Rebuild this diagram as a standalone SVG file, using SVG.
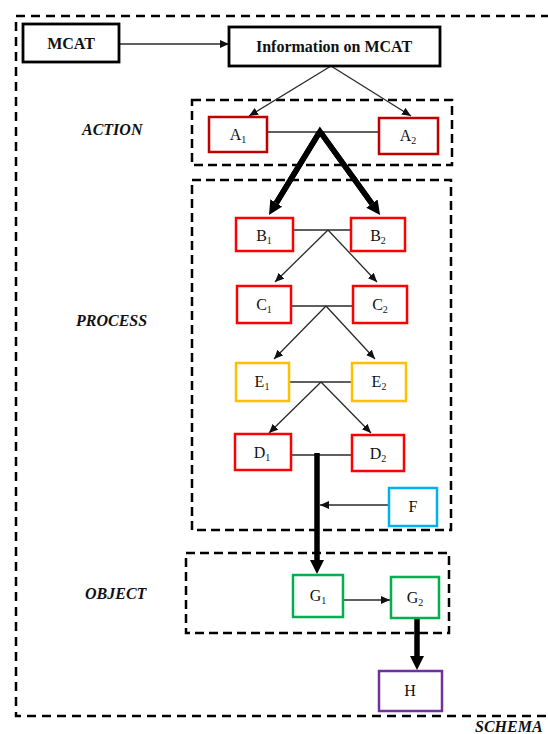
<svg xmlns="http://www.w3.org/2000/svg" width="548" height="734" viewBox="0 0 548 734">
  <style>
    .frame { fill: none; stroke: #000; stroke-width: 2.5; stroke-dasharray: 9 5; }
    .outer { fill: none; stroke: #000; stroke-width: 2.5; stroke-dasharray: 9 6; }
    .box { fill: #fff; stroke-width: 2.5; }
    .black { stroke: #000; stroke-width: 2.8; }
    .dred { stroke: #c00000; }
    .red { stroke: #ff0000; }
    .orange { stroke: #ffc000; }
    .blue { stroke: #00b0f0; }
    .green { stroke: #00b050; }
    .purple { stroke: #7030a0; }
    .thin { fill: none; stroke: #2a2a2a; stroke-width: 1.3; }
    .thick { fill: none; stroke: #000; stroke-width: 5.5; }
    text { font-family: "Liberation Serif", "Times New Roman", serif; fill: #111; }
    .title { font-size: 16px; font-weight: bold; text-anchor: middle; }
    .node { font-size: 16px; text-anchor: middle; }
    .sub { font-size: 10px; }
    .layer { font-size: 16px; font-weight: bold; font-style: italic; }
  </style>
  <defs>
    <marker id="tip" markerUnits="userSpaceOnUse" markerWidth="10" markerHeight="10" refX="9" refY="4" orient="auto">
      <path d="M0,0 L9,4 L0,8 z" fill="#111"/>
    </marker>
    <marker id="bigtip" markerUnits="userSpaceOnUse" markerWidth="16" markerHeight="16" refX="0" refY="7" orient="auto">
      <path d="M0,0 L14,7 L0,14 z" fill="#000"/>
    </marker>
  </defs>

  <!-- schema frame and layer frames -->
  <rect class="outer" x="16" y="16" width="545" height="700"/>
  <rect class="frame" x="192" y="100" width="260" height="65"/>
  <rect class="frame" x="192" y="180" width="259" height="350"/>
  <rect class="frame" x="186" y="553" width="263" height="80"/>

  <!-- layer labels -->
  <text class="layer" x="82" y="135">ACTION</text>
  <text class="layer" x="76" y="326">PROCESS</text>
  <text class="layer" x="85" y="599">OBJECT</text>
  <text class="layer" x="475" y="732">SCHEMA</text>

  <!-- connectors -->
  <g id="connectors">
    <line class="thin" x1="119" y1="44" x2="229" y2="44" marker-end="url(#tip)"/>
    <line class="thin" x1="331" y1="66" x2="249" y2="116" marker-end="url(#tip)"/>
    <line class="thin" x1="331" y1="66" x2="411" y2="116" marker-end="url(#tip)"/>

    <line class="thin" x1="267" y1="132" x2="379" y2="132"/>
    <polyline class="thick" points="276.3,203 320,131.5 371.9,203.6" stroke-linejoin="miter"/>
    <line class="thick" x1="319" y1="133" x2="276.3" y2="203" marker-end="url(#bigtip)"/>
    <line class="thick" x1="321" y1="133" x2="371.9" y2="203.6" marker-end="url(#bigtip)"/>

    <line class="thin" x1="293" y1="230" x2="351" y2="230"/>
    <line class="thin" x1="328" y1="230" x2="275" y2="282" marker-end="url(#tip)"/>
    <line class="thin" x1="328" y1="230" x2="377" y2="282" marker-end="url(#tip)"/>

    <line class="thin" x1="291" y1="306" x2="353" y2="306"/>
    <line class="thin" x1="326" y1="306" x2="274" y2="359" marker-end="url(#tip)"/>
    <line class="thin" x1="326" y1="306" x2="375" y2="359" marker-end="url(#tip)"/>

    <line class="thin" x1="289" y1="382" x2="352" y2="382"/>
    <line class="thin" x1="321" y1="382" x2="269" y2="433" marker-end="url(#tip)"/>
    <line class="thin" x1="321" y1="382" x2="371" y2="433" marker-end="url(#tip)"/>

    <line class="thin" x1="291" y1="455" x2="352" y2="455"/>
    <line class="thick" x1="317" y1="453" x2="317" y2="560" marker-end="url(#bigtip)"/>
    <line class="thin" x1="389" y1="505" x2="320" y2="505" marker-end="url(#tip)"/>

    <line class="thin" x1="343" y1="600" x2="390" y2="600" marker-end="url(#tip)"/>
    <line class="thick" x1="417" y1="618" x2="417" y2="656" marker-end="url(#bigtip)"/>
  </g>

  <!-- nodes -->
  <g id="mcat">
    <rect class="box black" x="23" y="24" width="96" height="38"/>
    <text class="title" x="71" y="49">MCAT</text>
  </g>
  <g id="info">
    <rect class="box black" x="229" y="27" width="211" height="39"/>
    <text class="title" x="334" y="52" font-size="17">Information on MCAT</text>
  </g>
  <g id="a1">
    <rect class="box dred" x="209" y="117" width="58" height="35"/>
    <text class="node" x="238" y="140">A<tspan class="sub" dy="3">1</tspan></text>
  </g>
  <g id="a2">
    <rect class="box dred" x="379" y="118" width="59" height="36"/>
    <text class="node" x="408" y="141">A<tspan class="sub" dy="3">2</tspan></text>
  </g>
  <g id="b1">
    <rect class="box red" x="236" y="218" width="57" height="33"/>
    <text class="node" x="264" y="241">B<tspan class="sub" dy="3">1</tspan></text>
  </g>
  <g id="b2">
    <rect class="box red" x="351" y="218" width="54" height="33"/>
    <text class="node" x="378" y="241">B<tspan class="sub" dy="3">2</tspan></text>
  </g>
  <g id="c1">
    <rect class="box red" x="237" y="286" width="54" height="37"/>
    <text class="node" x="264" y="310">C<tspan class="sub" dy="3">1</tspan></text>
  </g>
  <g id="c2">
    <rect class="box red" x="353" y="286" width="54" height="37"/>
    <text class="node" x="380" y="310">C<tspan class="sub" dy="3">2</tspan></text>
  </g>
  <g id="e1">
    <rect class="box orange" x="236" y="363" width="53" height="38"/>
    <text class="node" x="262" y="387">E<tspan class="sub" dy="3">1</tspan></text>
  </g>
  <g id="e2">
    <rect class="box orange" x="352" y="363" width="54" height="38"/>
    <text class="node" x="379" y="387">E<tspan class="sub" dy="3">2</tspan></text>
  </g>
  <g id="d1">
    <rect class="box red" x="235" y="434" width="56" height="36"/>
    <text class="node" x="262" y="458">D<tspan class="sub" dy="3">1</tspan></text>
  </g>
  <g id="d2">
    <rect class="box red" x="352" y="435" width="52" height="36"/>
    <text class="node" x="378" y="459">D<tspan class="sub" dy="3">2</tspan></text>
  </g>
  <g id="f">
    <rect class="box blue" x="389" y="488" width="48" height="38"/>
    <text class="node" x="413" y="512">F</text>
  </g>
  <g id="g1">
    <rect class="box green" x="293" y="575" width="50" height="42"/>
    <text class="node" x="318" y="601">G<tspan class="sub" dy="3">1</tspan></text>
  </g>
  <g id="g2">
    <rect class="box green" x="391" y="577" width="48" height="41"/>
    <text class="node" x="415" y="603">G<tspan class="sub" dy="3">2</tspan></text>
  </g>
  <g id="h">
    <rect class="box purple" x="379" y="671" width="63" height="40"/>
    <text class="node" x="410" y="696">H</text>
  </g>
</svg>
